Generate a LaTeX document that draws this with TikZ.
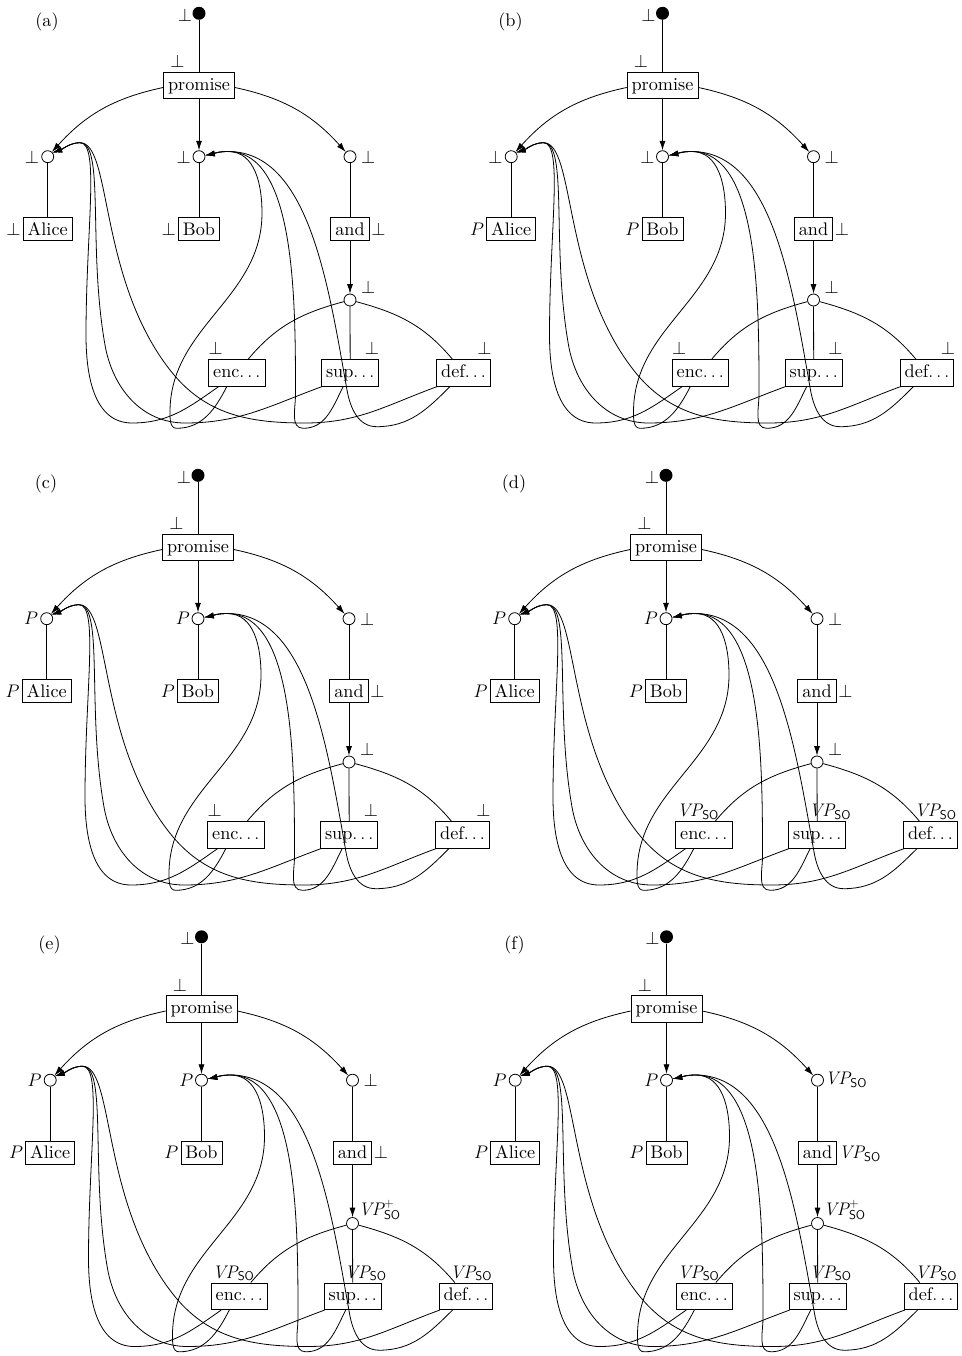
\RequirePackage{fix-cm}
\documentclass[tikz,border=0pt]{standalone}
\usepackage{fontspec}
\usetikzlibrary{arrows.meta}

% text face for node labels: the 10pt design of Latin Modern, scaled up
\newfontfamily\nodefont{lmroman10-regular.otf}

\newcommand{\vpso}{$\mathit{VP}_{\mathsf{SO}}$}
\newcommand{\vpsoplus}{$\mathit{VP}^{+}_{\mathsf{SO}}$}

% One dominance graph; #1 = node name prefix, #2 = panel letter.
\newcommand{\graphbody}[2]{%
  \node[lbl] (#1-tag) at (47,-21.5) {(#2)};
  \node[rootdot] (#1-root) at (199,-13.3) {};
  \node[worddesc] (#1-prom) at (199,-85.5) {promise};
  \node[hole] (#1-ac) at (47.7,-156.7) {};
  \node[word] (#1-ab) at (47.7,-229) {Alice};
  \node[hole] (#1-bc) at (199,-156.7) {};
  \node[word] (#1-bb) at (199,-229) {Bob};
  \node[hole] (#1-nc) at (350,-156.7) {};
  \node[word] (#1-nb) at (350,-229) {and};
  \node[hole] (#1-cc) at (350,-300) {};
  \node[worddesc] (#1-enc) at (236.8,-372.8) {enc$\ldots$};
  \node[worddesc] (#1-sup) at (350.2,-372.8) {sup$\ldots$};
  \node[worddesc] (#1-def) at (463.5,-372.8) {def$\ldots$};
  \node[lbl, anchor=east] (#1-Lroot) at ([yshift=-1.5pt]#1-root.west) {$\bot$};
  \node[lbl, anchor=base west] (#1-Lprom) at ([shift={(7,4)}]#1-prom.north west) {$\bot$};
  % tree edges
  \draw[link] (#1-root) -- (#1-prom);
  \draw[dom] (#1-prom) -- (#1-bc);
  \draw[dom] ([yshift=-2pt]#1-prom.west) to[out=192,in=48] (#1-ac);
  \draw[dom] ([yshift=-2pt]#1-prom.east) to[out=-12,in=132] (#1-nc);
  \draw[link] (#1-ac) -- (#1-ab);
  \draw[link] (#1-bc) -- (#1-bb);
  \draw[link] (#1-nc) -- (#1-nb);
  \draw[dom] (#1-nb) -- (#1-cc);
  \draw[link] (#1-cc) -- (#1-sup);
  \draw[link] (#1-cc) to[out=195,in=50] ([xshift=11.5pt]#1-enc.north);
  \draw[link] (#1-cc) to[out=-15,in=130] ([xshift=-11.2pt]#1-def.north);
  % dominance edges into the hole above Alice
  \draw[dom] ([xshift=10.4pt]#1-enc.south west) to[out=215,in=0] (132,-423)
     to[out=180,in=-90] (86,-335)
     .. controls (86,-230) and (100,-142.7) .. (80,-142.7)
     .. controls (70,-142.7) and (62,-149.5) .. (#1-ac.40);
  \draw[dom] ([xshift=1pt]#1-sup.south west) to[out=200,in=0] (185,-423)
     to[out=180,in=-80] (105,-345)
     .. controls (87.6,-246.5) and (105,-142.7) .. (80,-142.7)
     .. controls (70,-142.7) and (62,-149.5) .. (#1-ac.40);
  \draw[dom] ([xshift=1pt]#1-def.south west) to[out=200,in=0] (305,-423)
     to[out=180,in=-52] (170,-370)
     .. controls (98,-278) and (112,-142.7) .. (80,-142.7)
     .. controls (70,-142.7) and (62,-149.5) .. (#1-ac.40);
  % dominance edges into the hole above Bob
  \draw[dom] ([xshift=-10pt]#1-enc.south) to[out=243,in=0] (176.7,-428.3)
     to[out=180,in=-90] (170,-412) to[out=90,in=-90] (262,-213)
     to[out=90,in=0] (228,-151.5)
     .. controls (218,-151.5) and (212,-154) .. (#1-bc.12);
  \draw[dom] ([xshift=-7pt]#1-sup.south) to[out=243,in=0] (303.3,-428.3)
     to[out=180,in=-90] (295.5,-395)
     .. controls (295.5,-296) and (295,-151.5) .. (228,-151.5)
     .. controls (218,-151.5) and (212,-154) .. (#1-bc.12);
  \draw[dom] ([xshift=-13.5pt]#1-def.south) to[out=225,in=0] (376.7,-426.7)
     to[out=180,in=280] (347,-390)
     .. controls (327.9,-281.7) and (308,-151.5) .. (228,-151.5)
     .. controls (218,-151.5) and (212,-154) .. (#1-bc.12);
}

\begin{document}
\begin{tikzpicture}[x=1pt, y=1pt,
  every node/.style={font=\nodefont\fontsize{18.2}{22}\selectfont},
  word/.style={draw, line width=0.8pt, inner xsep=4.5pt, inner ysep=5.3pt,
    text height=12.6pt, text depth=0pt},
  worddesc/.style={word, text depth=3.5pt},
  hole/.style={circle, draw, fill=white, line width=0.8pt, minimum size=12pt, inner sep=0pt},
  rootdot/.style={circle, fill=black, minimum size=13pt, inner sep=0pt},
  lbl/.style={inner sep=0pt},
  link/.style={line width=0.8pt},
  dom/.style={line width=0.8pt, -{Latex[length=9.5pt,width=6pt]}}]
\useasboundingbox (0,0) rectangle (961,-1356);

% (a)
\begin{scope}[shift={(0,0)}]
  \graphbody{a}{a}
  \node[lbl, anchor=east] (a-Lac) at ([xshift=-2pt]a-ac.west) {$\bot$};
  \node[lbl, anchor=base east] (a-Lab) at ([xshift=-2pt]a-ab.base west) {$\bot$};
  \node[lbl, anchor=east] (a-Lbc) at ([xshift=-1.5pt]a-bc.west) {$\bot$};
  \node[lbl, anchor=base east] (a-Lbb) at ([xshift=-2pt]a-bb.base west) {$\bot$};
  \node[lbl, anchor=west] (a-Lnc) at ([xshift=4.5pt]a-nc.east) {$\bot$};
  \node[lbl, anchor=base west] (a-Lnb) at ([xshift=1.5pt]a-nb.base east) {$\bot$};
  \node[lbl, anchor=base west] (a-Lcc) at ([shift={(11,7)}]a-cc.center) {$\bot$};
  \node[lbl, anchor=base west] (a-Lenc) at ([shift={(0,4.5)}]a-enc.north west) {$\bot$};
  \node[lbl, anchor=base east] (a-Lsup) at ([shift={(0,4.5)}]a-sup.north east) {$\bot$};
  \node[lbl, anchor=base east] (a-Ldef) at ([shift={(1,4.5)}]a-def.north east) {$\bot$};
\end{scope}

% (b)
\begin{scope}[shift={(463.5,0)}]
  \graphbody{b}{b}
  \node[lbl, anchor=east] (b-Lac) at ([xshift=-2pt]b-ac.west) {$\bot$};
  \node[lbl, anchor=base east] (b-Lab) at ([xshift=-2pt]b-ab.base west) {$P$};
  \node[lbl, anchor=east] (b-Lbc) at ([xshift=-1.5pt]b-bc.west) {$\bot$};
  \node[lbl, anchor=base east] (b-Lbb) at ([xshift=-2pt]b-bb.base west) {$P$};
  \node[lbl, anchor=west] (b-Lnc) at ([xshift=4.5pt]b-nc.east) {$\bot$};
  \node[lbl, anchor=base west] (b-Lnb) at ([xshift=1.5pt]b-nb.base east) {$\bot$};
  \node[lbl, anchor=base west] (b-Lcc) at ([shift={(11,7)}]b-cc.center) {$\bot$};
  \node[lbl, anchor=base west] (b-Lenc) at ([shift={(0,4.5)}]b-enc.north west) {$\bot$};
  \node[lbl, anchor=base east] (b-Lsup) at ([shift={(0,4.5)}]b-sup.north east) {$\bot$};
  \node[lbl, anchor=base east] (b-Ldef) at ([shift={(1,4.5)}]b-def.north east) {$\bot$};
\end{scope}

% (c)
\begin{scope}[shift={(-1,-462)}]
  \graphbody{c}{c}
  \node[lbl, anchor=east] (c-Lac) at ([xshift=-2pt]c-ac.west) {$P$};
  \node[lbl, anchor=base east] (c-Lab) at ([xshift=-2pt]c-ab.base west) {$P$};
  \node[lbl, anchor=east] (c-Lbc) at ([xshift=-1.5pt]c-bc.west) {$P$};
  \node[lbl, anchor=base east] (c-Lbb) at ([xshift=-2pt]c-bb.base west) {$P$};
  \node[lbl, anchor=west] (c-Lnc) at ([xshift=4.5pt]c-nc.east) {$\bot$};
  \node[lbl, anchor=base west] (c-Lnb) at ([xshift=1.5pt]c-nb.base east) {$\bot$};
  \node[lbl, anchor=base west] (c-Lcc) at ([shift={(11,7)}]c-cc.center) {$\bot$};
  \node[lbl, anchor=base west] (c-Lenc) at ([shift={(0,4.5)}]c-enc.north west) {$\bot$};
  \node[lbl, anchor=base east] (c-Lsup) at ([shift={(0,4.5)}]c-sup.north east) {$\bot$};
  \node[lbl, anchor=base east] (c-Ldef) at ([shift={(1,4.5)}]c-def.north east) {$\bot$};
\end{scope}

% (d)
\begin{scope}[shift={(467,-462)}]
  \graphbody{d}{d}
  \node[lbl, anchor=east] (d-Lac) at ([xshift=-2pt]d-ac.west) {$P$};
  \node[lbl, anchor=base east] (d-Lab) at ([xshift=-2pt]d-ab.base west) {$P$};
  \node[lbl, anchor=east] (d-Lbc) at ([xshift=-1.5pt]d-bc.west) {$P$};
  \node[lbl, anchor=base east] (d-Lbb) at ([xshift=-2pt]d-bb.base west) {$P$};
  \node[lbl, anchor=west] (d-Lnc) at ([xshift=4.5pt]d-nc.east) {$\bot$};
  \node[lbl, anchor=base west] (d-Lnb) at ([xshift=1.5pt]d-nb.base east) {$\bot$};
  \node[lbl, anchor=base west] (d-Lcc) at ([shift={(11,7)}]d-cc.center) {$\bot$};
  \node[lbl, anchor=base west] (d-Lenc) at ([shift={(1.5,4.5)}]d-enc.north west) {\vpso};
  \node[lbl, anchor=base east] (d-Lsup) at ([shift={(5,4.5)}]d-sup.north east) {\vpso};
  \node[lbl, anchor=base east] (d-Ldef) at ([shift={(-1,4.5)}]d-def.north east) {\vpso};
\end{scope}

% (e)
\begin{scope}[shift={(2.5,-923.5)}]
  \graphbody{e}{e}
  \node[lbl, anchor=east] (e-Lac) at ([xshift=-2pt]e-ac.west) {$P$};
  \node[lbl, anchor=base east] (e-Lab) at ([xshift=-2pt]e-ab.base west) {$P$};
  \node[lbl, anchor=east] (e-Lbc) at ([xshift=-1.5pt]e-bc.west) {$P$};
  \node[lbl, anchor=base east] (e-Lbb) at ([xshift=-2pt]e-bb.base west) {$P$};
  \node[lbl, anchor=west] (e-Lnc) at ([xshift=4.5pt]e-nc.east) {$\bot$};
  \node[lbl, anchor=base west] (e-Lnb) at ([xshift=1.5pt]e-nb.base east) {$\bot$};
  \node[lbl, anchor=base west] (e-Lcc) at ([shift={(6,8.3)}]e-cc.center) {\vpsoplus};
  \node[lbl, anchor=base west] (e-Lenc) at ([shift={(1.5,4.5)}]e-enc.north west) {\vpso};
  \node[lbl, anchor=base east] (e-Lsup) at ([shift={(5,4.5)}]e-sup.north east) {\vpso};
  \node[lbl, anchor=base east] (e-Ldef) at ([shift={(-1,4.5)}]e-def.north east) {\vpso};
\end{scope}

% (f)
\begin{scope}[shift={(467.5,-923.5)}]
  \graphbody{f}{f}
  \node[lbl, anchor=east] (f-Lac) at ([xshift=-2pt]f-ac.west) {$P$};
  \node[lbl, anchor=base east] (f-Lab) at ([xshift=-2pt]f-ab.base west) {$P$};
  \node[lbl, anchor=east] (f-Lbc) at ([xshift=-1.5pt]f-bc.west) {$P$};
  \node[lbl, anchor=base east] (f-Lbb) at ([xshift=-2pt]f-bb.base west) {$P$};
  \node[lbl, anchor=west] (f-Lnc) at ([xshift=1pt]f-nc.east) {\vpso};
  \node[lbl, anchor=base west] (f-Lnb) at ([xshift=1.5pt]f-nb.base east) {\vpso};
  \node[lbl, anchor=base west] (f-Lcc) at ([shift={(6,8.3)}]f-cc.center) {\vpsoplus};
  \node[lbl, anchor=base west] (f-Lenc) at ([shift={(1.5,4.5)}]f-enc.north west) {\vpso};
  \node[lbl, anchor=base east] (f-Lsup) at ([shift={(5,4.5)}]f-sup.north east) {\vpso};
  \node[lbl, anchor=base east] (f-Ldef) at ([shift={(-1,4.5)}]f-def.north east) {\vpso};
\end{scope}
\end{tikzpicture}
\end{document}
